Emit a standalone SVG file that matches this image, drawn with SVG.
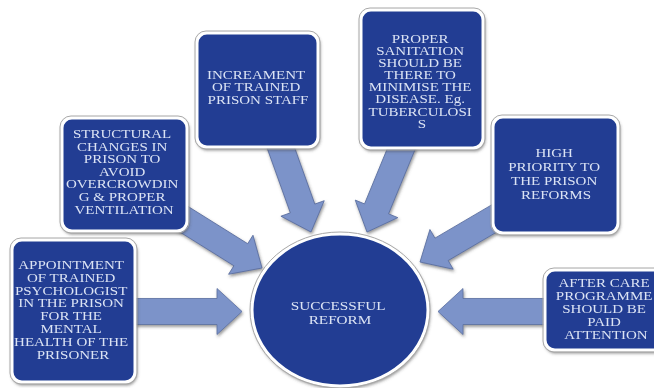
<svg xmlns="http://www.w3.org/2000/svg" xmlns:xlink="http://www.w3.org/1999/xlink" width="654" height="388" viewBox="0 0 654 388">
  <defs>
    <filter id="sh" x="-20%" y="-20%" width="140%" height="140%">
      <feDropShadow dx="1" dy="2" stdDeviation="1.5" flood-color="#444" flood-opacity="0.55"/>
    </filter>
    <path id="arrow" d="M-150,-13 L-25,-13 L-25,-23 L0,0 L-25,23 L-25,13 L-150,13 Z"/>
    <style>
      .box{fill:#203e93;stroke:#ffffff;stroke-width:3}
      .edge{fill:none;stroke:#a8a8a8;stroke-width:1}
      .arr{fill:#7c93c9;stroke:#5b6f9f;stroke-width:0.8}
      .t{font-family:"Liberation Serif","Times New Roman",serif;font-size:12px;fill:#dbe3f4;text-anchor:middle}
      .c{font-size:13.5px}
    </style>
  </defs>
  <rect width="654" height="388" fill="#ffffff"/>

  <g id="connectors" filter="url(#sh)">
    <use xlink:href="#arrow" class="arr" transform="translate(242,311.5)"/>
    <use xlink:href="#arrow" class="arr" transform="translate(438,311.5) rotate(180)"/>
    <use xlink:href="#arrow" class="arr" transform="translate(262,268) rotate(32)"/>
    <use xlink:href="#arrow" class="arr" transform="translate(311,232) rotate(70.3)"/>
    <use xlink:href="#arrow" class="arr" transform="translate(367,232) rotate(112.4)"/>
    <use xlink:href="#arrow" class="arr" transform="translate(420,262) rotate(149.6)"/>
  </g>

  <g id="center">
    <ellipse cx="340" cy="310" rx="88" ry="76" class="box" filter="url(#sh)"/>
    <ellipse cx="340" cy="310" rx="90" ry="78" class="edge"/>
    <text class="t c" transform="translate(340,0) scale(1.13,1)">
      <tspan x="0" y="310">SUCCESSFUL</tspan>
      <tspan x="0" y="324">REFORM</tspan>
    </text>
  </g>

  <g id="n-psychologist">
    <rect x="12" y="240" width="123" height="142" rx="10" class="box" filter="url(#sh)"/>
    <rect x="10" y="238" width="127" height="146" rx="11" class="edge"/>
    <text class="t" transform="translate(73,0) scale(1.25,1)">
      <tspan x="0" y="269">APPOINTMENT</tspan>
      <tspan x="0" y="281.8">OF TRAINED</tspan>
      <tspan x="0" y="294.6">PSYCHOLOGIST</tspan>
      <tspan x="0" y="307.4">IN THE PRISON</tspan>
      <tspan x="0" y="320.2">FOR THE</tspan>
      <tspan x="0" y="333">MENTAL</tspan>
      <tspan x="0" y="345.8">HEALTH OF THE</tspan>
      <tspan x="0" y="358.6">PRISONER</tspan>
    </text>
  </g>

  <g id="n-structural">
    <rect x="62" y="118" width="125" height="113" rx="10" class="box" filter="url(#sh)"/>
    <rect x="60" y="116" width="129" height="117" rx="11" class="edge"/>
    <text class="t" transform="translate(124,0) scale(1.25,1)">
      <tspan x="0" y="138">STRUCTURAL</tspan>
      <tspan x="0" y="150.6">CHANGES IN</tspan>
      <tspan x="0" y="163.2">PRISON TO</tspan>
      <tspan x="0" y="175.8">AVOID</tspan>
      <tspan x="0" y="188.4">OVERCROWDIN</tspan>
      <tspan x="0" y="201">G &amp; PROPER</tspan>
      <tspan x="0" y="213.6">VENTILATION</tspan>
    </text>
  </g>

  <g id="n-staff">
    <rect x="197" y="33" width="121" height="114" rx="10" class="box" filter="url(#sh)"/>
    <rect x="195" y="31" width="125" height="118" rx="11" class="edge"/>
    <text class="t" transform="translate(258,0) scale(1.25,1)">
      <tspan x="0" y="79">INCREAMENT</tspan>
      <tspan x="0" y="91.5">OF TRAINED</tspan>
      <tspan x="0" y="104">PRISON STAFF</tspan>
    </text>
  </g>

  <g id="n-sanitation">
    <rect x="361" y="10" width="122" height="138" rx="10" class="box" filter="url(#sh)"/>
    <rect x="359" y="8" width="126" height="142" rx="11" class="edge"/>
    <text class="t" transform="translate(422,0) scale(1.25,1)">
      <tspan x="0" y="43">PROPER</tspan>
      <tspan x="0" y="55.1">SANITATION</tspan>
      <tspan x="0" y="67.2">SHOULD BE</tspan>
      <tspan x="0" y="79.3">THERE TO</tspan>
      <tspan x="0" y="91.4">MINIMISE THE</tspan>
      <tspan x="0" y="103.5">DISEASE. Eg.</tspan>
      <tspan x="0" y="115.6">TUBERCULOSI</tspan>
      <tspan x="0" y="127.7">S</tspan>
    </text>
  </g>

  <g id="n-priority">
    <rect x="493" y="117" width="125" height="116" rx="10" class="box" filter="url(#sh)"/>
    <rect x="491" y="115" width="129" height="120" rx="11" class="edge"/>
    <text class="t" transform="translate(556,0) scale(1.25,1)">
      <tspan x="0" y="157">HIGH</tspan>
      <tspan x="0" y="171">PRIORITY TO</tspan>
      <tspan x="0" y="185">THE PRISON</tspan>
      <tspan x="0" y="199">REFORMS</tspan>
    </text>
  </g>

  <g id="n-aftercare">
    <rect x="545" y="270" width="123" height="80" rx="10" class="box" filter="url(#sh)"/>
    <rect x="543" y="268" width="127" height="84" rx="11" class="edge"/>
    <text class="t" transform="translate(606,0) scale(1.25,1)">
      <tspan x="0" y="287">AFTER CARE</tspan>
      <tspan x="0" y="300">PROGRAMME</tspan>
      <tspan x="0" y="313">SHOULD BE</tspan>
      <tspan x="0" y="326">PAID</tspan>
      <tspan x="0" y="339">ATTENTION</tspan>
    </text>
  </g>
</svg>
